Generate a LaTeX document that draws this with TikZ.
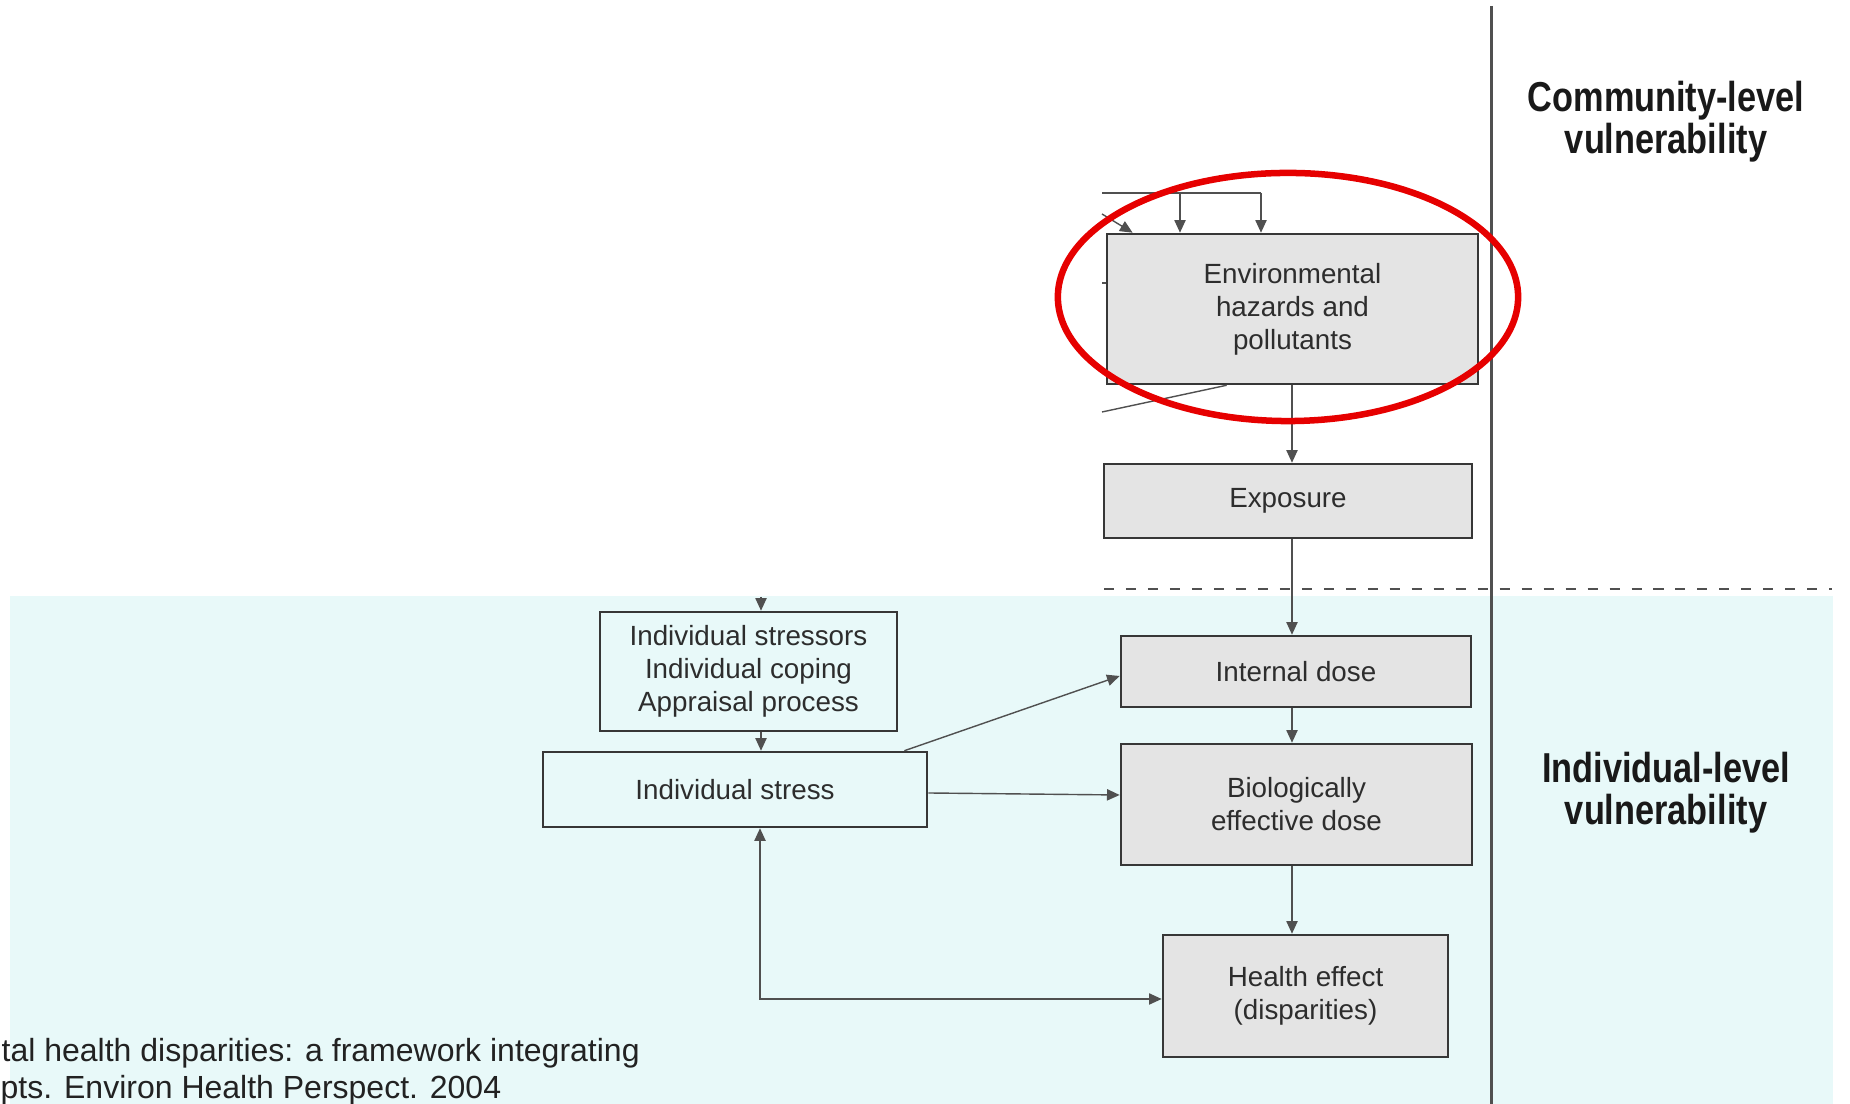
\documentclass[tikz,border=0pt]{standalone}
\usepackage{fontspec}
\setmainfont{Liberation Sans}
\newfontfamily\condfont[FakeStretch=0.82]{Liberation Sans}
\usetikzlibrary{arrows.meta,calc}
\definecolor{panel}{RGB}{232,249,249}
\definecolor{boxfill}{RGB}{228,228,228}
\definecolor{boxline}{RGB}{55,55,55}
\definecolor{wirecol}{RGB}{80,80,80}
\definecolor{boxtext}{RGB}{45,45,45}
\definecolor{ringred}{RGB}{230,0,0}
\definecolor{citetext}{RGB}{34,34,34}

\begin{document}
\begin{tikzpicture}[x=0.01cm,y=-0.01cm,
  box/.style={draw=boxline, line width=0.7pt, fill=boxfill, text=boxtext,
    font=\fontsize{7.9}{9.4}\selectfont, align=center, inner sep=0pt},
  openbox/.style={box, fill=none},
  wire/.style={draw=wirecol, line width=0.4pt},
  tip/.tip={Triangle[length=3.6pt,width=3.2pt]},
  arr/.style={wire, -tip},
  dashline/.style={draw=wirecol, line width=0.8pt, dash pattern=on 2.85pt off 3.4pt},
  divider/.style={draw=wirecol, line width=0.85pt},
  level/.style={font=\condfont\bfseries\fontsize{11.9}{12}\selectfont, align=center, text=black!90},
  cite/.style={font=\fontsize{9.1}{10.5}\selectfont, text=citetext, inner sep=0pt, anchor=base west},
]
\path[use as bounding box] (0,0) rectangle (1850,1104);

% individual-level band, its boundary and the column divider
\fill[panel] (10,596) rectangle (1833,1104);
\draw[dashline] (1104,589) -- (1832,589);
\draw[divider] (1491,6) -- (1491,1104);

% main chain
\node[box, minimum width=3.71cm, minimum height=1.50cm] (env) at (1292.5,309) {Environmental\\hazards and\\pollutants};
\node[box, minimum width=3.68cm, minimum height=0.74cm] (expo) at (1288,501) {Exposure};
\node[box, minimum width=3.50cm, minimum height=0.71cm] (idose) at (1296,671.5) {Internal dose};
\node[box, minimum width=3.51cm, minimum height=1.21cm] (bdose) at (1296.5,804.5) {Biologically\\effective dose};
\node[box, minimum width=2.85cm, minimum height=1.22cm] (health) at (1305.5,996) {Health effect\\(disparities)};

% stress branch
\node[openbox, minimum width=2.97cm, minimum height=1.19cm] (stressors) at (748.5,671.5) {Individual stressors\\Individual coping\\Appraisal process};
\node[openbox, minimum width=3.84cm, minimum height=0.75cm] (stress) at (735,789.5) {Individual stress};

% vertical spine of the chain
\coordinate (spine) at (1292,0);
\draw[arr] (spine |- env.south) -- (spine |- expo.north);
\draw[arr] (spine |- expo.south) -- (spine |- idose.north);
\draw[arr] (spine |- idose.south) -- (spine |- bdose.north);
\draw[arr] (spine |- bdose.south) -- (spine |- health.north);

% incoming links into the hazards box
\coordinate (feedL) at (1102,193);
\coordinate (feedA) at (1180,193);
\coordinate (feedB) at (1261,193);
\draw[wire] (feedL) -- (feedB);
\draw[arr] (feedA) -- (feedA |- env.north);
\draw[arr] (feedB) -- (feedB |- env.north);
\coordinate (diagIn) at (1102,214);
\draw[arr] (diagIn) -- ($(env.north west)+(27,0)$);
\coordinate (tickIn) at (1102,283);
\draw[wire] (tickIn) -- (tickIn -| env.west);
\coordinate (lowIn) at (1102,412);
\draw[wire] (lowIn) -- ($(env.south west)+(121,0)$);

% stress links
\coordinate (stIn) at (761,597);
\draw[arr] (stIn) -- (stIn |- stressors.north);
\draw[arr] (stIn |- stressors.south) -- (stIn |- stress.north);
\draw[arr] ($(stress.north east)+(-24,0)$) -- ($(idose.west)+(0,4.5)$);
\draw[arr] ($(stress.east)+(0,3.5)$) -- ($(bdose.west)+(0,-9.5)$);
\coordinate (loopX) at (760,0);
\draw[wire, tip-tip] (loopX |- stress.south) -- ($(loopX |- health.west)+(0,3)$) -- ($(health.west)+(0,3)$);

% highlight ring
\draw[ringred, line width=1.85pt] (1288,297) ellipse [x radius=2.30cm, y radius=1.24cm];

% level labels
\node[level] (community) at (1666,122) {Community-level\\vulnerability};
\node[level] (individual) at (1666,793) {Individual-level\\vulnerability};

% citation lines
\node[cite] (citeA) at (1,1062) {tal health disparities: a framework integrating};
\node[cite] (citeB) at (0,1099) {pts. Environ Health Perspect. 2004};
\end{tikzpicture}
\end{document}
